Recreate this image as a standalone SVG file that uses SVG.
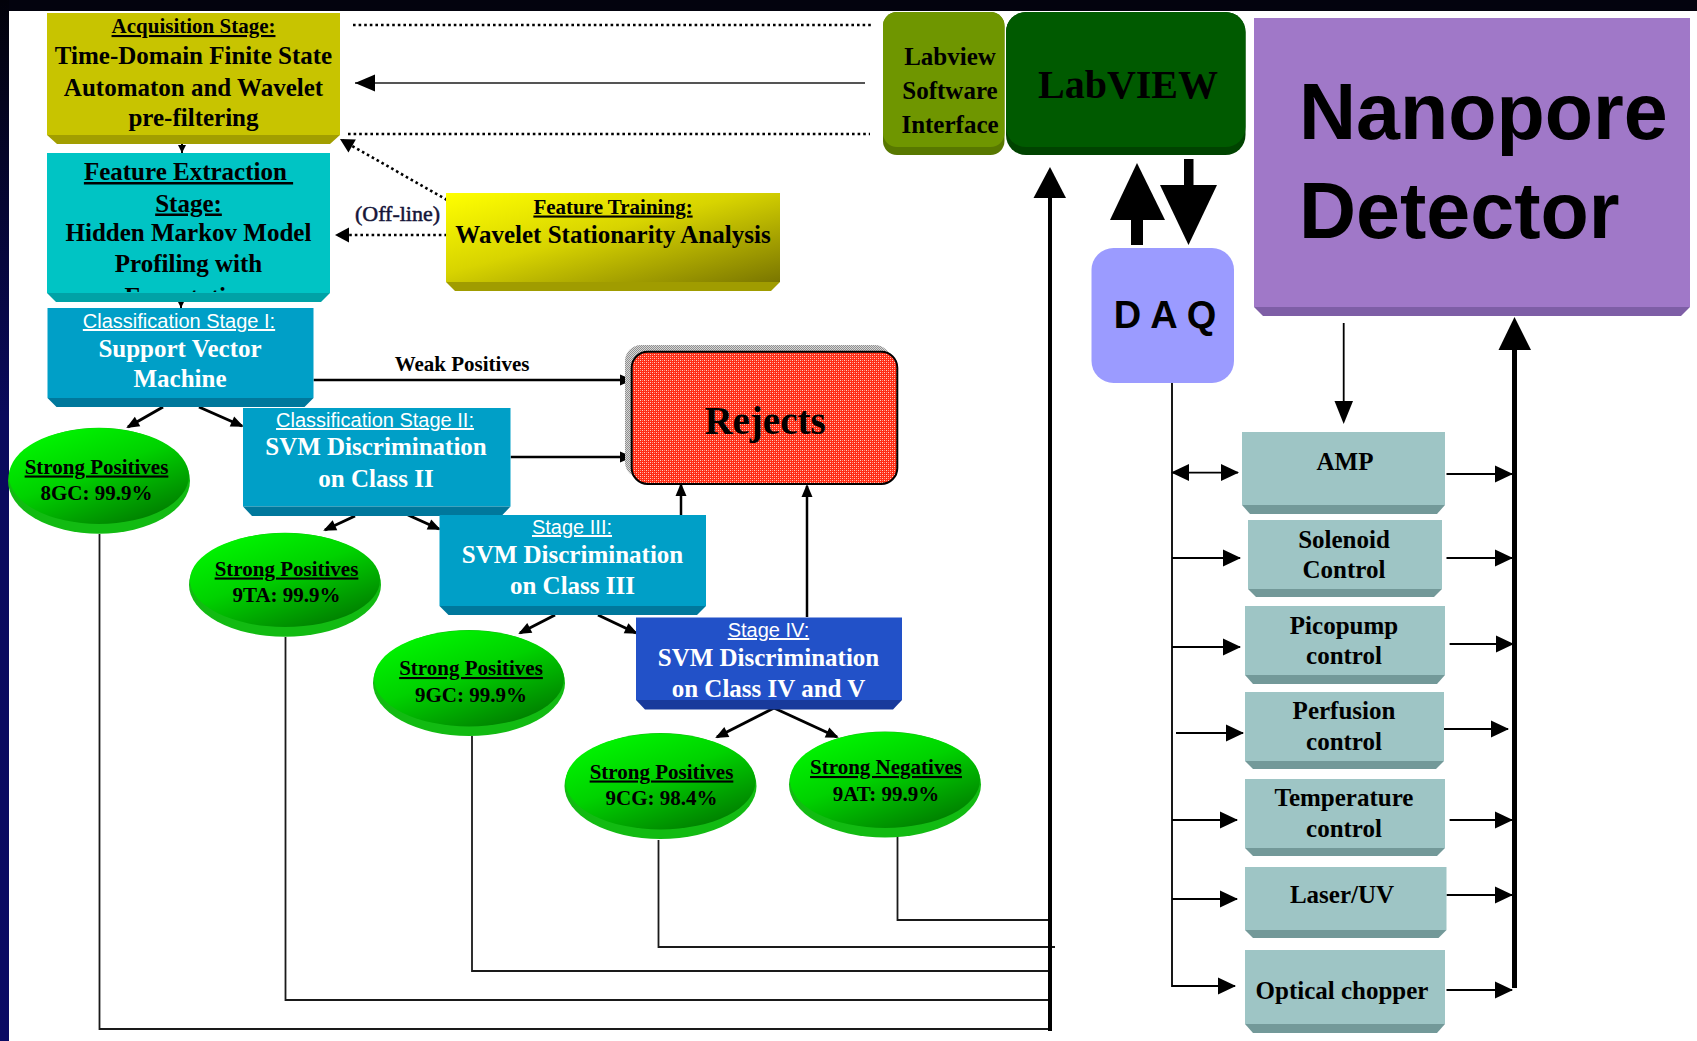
<svg xmlns="http://www.w3.org/2000/svg" width="1697" height="1041" viewBox="0 0 1697 1041">
<defs>
<style>
.sf{font-family:"Liberation Serif","Times New Roman",serif;font-weight:bold;text-anchor:middle;}
.ss{font-family:"Liberation Sans",Arial,sans-serif;text-anchor:middle;}
.u{text-decoration:underline;}
.wt{fill:#fff;}
.bk{fill:#000;}
.f25{font-size:25px;}
.f21{font-size:21px;}
.h20{font-size:20px;fill:#fff;}
.tree{stroke:#000;stroke-width:3;fill:none;marker-end:url(#ah12);}
.rj{stroke:#000;stroke-width:2.5;fill:none;marker-end:url(#ah12);}
.thin{stroke:#000;stroke-width:1.8;fill:none;marker-end:url(#ah18);}
.dot{stroke:#000;stroke-width:2.6;fill:none;stroke-dasharray:2.6 3;}
.ret{stroke:#1a1a1a;stroke-width:1.8;fill:none;}
.rb{fill:#9ec5c5;}
.rbv{fill:#739999;}
.cb{fill:#009fc7;}
.cbv{fill:#00789c;}
.gbase{fill:#12bb12;}
.gface{fill:url(#gg);}
</style>
<marker id="ah12" markerUnits="userSpaceOnUse" markerWidth="13" markerHeight="11" refX="11" refY="5.5" orient="auto" overflow="visible"><path d="M0,0 L13,5.5 L0,11 z" fill="#000"/></marker>
<marker id="ah18" markerUnits="userSpaceOnUse" markerWidth="18" markerHeight="17" refX="17" refY="8.5" orient="auto-start-reverse" overflow="visible"><path d="M0,0 L18,8.5 L0,17 z" fill="#000"/></marker>
<marker id="ahs" markerUnits="userSpaceOnUse" markerWidth="8" markerHeight="8" refX="8" refY="4" orient="auto" overflow="visible"><path d="M0,0 L8,4 L0,8 z" fill="#000"/></marker>
<marker id="ahd" markerUnits="userSpaceOnUse" markerWidth="14" markerHeight="15" refX="14" refY="7.5" orient="auto" overflow="visible"><path d="M0,0 L14,7.5 L0,15 z" fill="#000"/></marker>
<marker id="ahg" markerUnits="userSpaceOnUse" markerWidth="20" markerHeight="17" refX="20" refY="8.5" orient="auto" overflow="visible"><path d="M0,0 L20,8.5 L0,17 z" fill="#000"/></marker>
<linearGradient id="gg" x1="0.15" y1="0" x2="0.85" y2="1">
<stop offset="0" stop-color="#00fa00"/><stop offset="0.45" stop-color="#00d200"/><stop offset="1" stop-color="#007400"/>
</linearGradient>
<linearGradient id="ftg" x1="0" y1="0" x2="1" y2="1">
<stop offset="0" stop-color="#ffff00"/><stop offset="0.45" stop-color="#d8d400"/><stop offset="1" stop-color="#7a7600"/>
</linearGradient>
<linearGradient id="navy" x1="0" y1="0" x2="0" y2="1">
<stop offset="0" stop-color="#02020a"/><stop offset="0.4" stop-color="#0a0a5c"/><stop offset="1" stop-color="#0a0a64"/>
</linearGradient>
<pattern id="redp" width="4" height="4" patternUnits="userSpaceOnUse">
<rect width="4" height="4" fill="#ff2c14"/><rect x="0" y="0" width="1" height="1" fill="#ffd0c6"/><rect x="2" y="2" width="1" height="1" fill="#ffd0c6"/><rect x="2" y="0" width="1" height="1" fill="#ff8a7a"/><rect x="0" y="2" width="1" height="1" fill="#ff8a7a"/>
</pattern>
<pattern id="grayp" width="2" height="2" patternUnits="userSpaceOnUse">
<rect width="2" height="2" fill="#d8d8d8"/><rect width="1" height="1" fill="#909090"/><rect x="1" y="1" width="1" height="1" fill="#909090"/>
</pattern>
<clipPath id="feclip"><rect x="47" y="153" width="283" height="139"/></clipPath>
</defs>

<rect x="0" y="0" width="1697" height="1041" fill="#fff"/>
<rect x="0" y="0" width="1697" height="11" fill="#03030e"/>
<rect x="0" y="0" width="9" height="1041" fill="url(#navy)"/>

<g id="connectors">
<path class="dot" d="M353,25 H873"/>
<path class="dot" d="M348,134 H870"/>
<path d="M865,83 H355" stroke="#555" stroke-width="2.2" fill="none" marker-end="url(#ahg)"/>
<path class="dot" d="M447,200 L340,139" marker-end="url(#ahd)"/>
<path class="dot" d="M447,235 H335" marker-end="url(#ahd)"/>
<path d="M182,144 V153" stroke="#000" stroke-width="2" marker-end="url(#ahs)"/>
<path d="M181,302 V308" stroke="#000" stroke-width="2" marker-end="url(#ahs)"/>
<path class="tree" d="M163,407 L128,427"/>
<path class="tree" d="M199,407 L242,426"/>
<path class="tree" d="M355,516 L325,530"/>
<path class="tree" d="M408,515 L439,529"/>
<path class="tree" d="M555,615 L520,633"/>
<path class="tree" d="M598,615 L636,633"/>
<path class="tree" d="M774,708 L717,737"/>
<path class="tree" d="M774,708 L837,737"/>
<path class="rj" d="M313.6,380 H631"/>
<path class="rj" d="M510.7,457 H631"/>
<path class="rj" d="M681,515 V485"/>
<path class="rj" d="M807,617 V486"/>
<path class="ret" d="M99.5,534 V1029 H1050"/>
<path class="ret" d="M285.5,637 V1000 H1050"/>
<path class="ret" d="M472,736 V971 H1050"/>
<path class="ret" d="M658.5,840 V947 H1055"/>
<path class="ret" d="M897.5,833 V920 H1050"/>
<path d="M1050,1031 V196" stroke="#000" stroke-width="4" fill="none"/>
<polygon points="1033.5,198 1066,198 1050,167" fill="#000"/>
<rect x="1131" y="218" width="12" height="27" fill="#000"/>
<polygon points="1110,220 1165,220 1137,163" fill="#000"/>
<rect x="1184" y="159" width="9.5" height="28" fill="#000"/>
<polygon points="1160,185 1217,185 1188.5,245" fill="#000"/>
<path d="M1343.7,323 V402" stroke="#000" stroke-width="1.8" fill="none"/>
<polygon points="1334.5,401 1353,401 1343.7,424" fill="#000"/>
<path d="M1514.5,988 V348" stroke="#000" stroke-width="5" fill="none"/>
<polygon points="1498.5,350 1531,350 1514.5,317" fill="#000"/>
<path class="thin" d="M1172,383 V986 H1235"/>
<path class="thin" d="M1172,472.6 H1238" marker-start="url(#ah18)"/>
<path class="thin" d="M1172,558 H1240"/>
<path class="thin" d="M1172,647 H1240"/>
<path class="thin" d="M1176,733 H1243"/>
<path class="thin" d="M1172,820 H1237"/>
<path class="thin" d="M1172,899 H1237"/>
<path class="thin" d="M1446.5,474 H1512"/>
<path class="thin" d="M1446.5,558 H1512"/>
<path class="thin" d="M1449.6,644 H1513"/>
<path class="thin" d="M1444,729 H1508"/>
<path class="thin" d="M1449.6,820 H1512"/>
<path class="thin" d="M1446.5,895 H1512"/>
<path class="thin" d="M1446.5,990 H1512"/>
</g>

<g id="acquisition">
<rect x="47" y="13" width="293" height="122" fill="#c8c400"/>
<polygon points="47,135 340,135 330,144 57,144" fill="#a29e00"/>
<text class="sf f21 u" x="193.5" y="33">Acquisition Stage:</text>
<text class="sf f25" x="193.5" y="64">Time-Domain Finite State</text>
<text class="sf f25" x="193.5" y="95.5">Automaton and Wavelet</text>
<text class="sf f25" x="193.5" y="126">pre-filtering</text>
</g>

<g id="feature-extraction">
<rect x="47" y="153" width="283" height="140" fill="#00c4c4"/>
<polygon points="47,293 330,293 321,302 56,302" fill="#00a2a6"/>
<text class="sf f25 u" x="188.5" y="180" xml:space="preserve">Feature Extraction </text>
<text class="sf f25 u" x="188.5" y="211.5">Stage:</text>
<text class="sf f25" x="188.5" y="241">Hidden Markov Model</text>
<text class="sf f25" x="188.5" y="272">Profiling with</text>
<text class="sf f25" x="188.5" y="305" clip-path="url(#feclip)">Expectation</text>
</g>

<g id="feature-training">
<rect x="446" y="193" width="334" height="89" fill="url(#ftg)"/>
<polygon points="446,282 780,282 771,291 455,291" fill="#a09c00"/>
<text class="sf f21 u" x="613" y="213.5">Feature Training:</text>
<text class="sf f25" x="613" y="243">Wavelet Stationarity Analysis</text>
</g>

<g id="offline-label">
<text x="397.5" y="221" style="font-family:'Liberation Serif','Times New Roman',serif;font-size:22px;text-anchor:middle;fill:#141438;stroke:#141438;stroke-width:0.5">(Off-line)</text>
</g>

<g id="labview-interface">
<rect x="883" y="12" width="121.5" height="143" rx="14" fill="#587800"/>
<rect x="883" y="12" width="121.5" height="135" rx="14" fill="#6f9600"/>
<text class="sf f25" x="950" y="65">Labview</text>
<text class="sf f25" x="950" y="99">Software</text>
<text class="sf f25" x="950" y="133">Interface</text>
</g>

<g id="labview">
<rect x="1006" y="12" width="239.5" height="143" rx="20" fill="#004300"/>
<rect x="1006" y="12" width="239.5" height="135" rx="20" fill="#005a00"/>
<text class="sf" x="1128" y="98" style="font-size:40px">LabVIEW</text>
</g>

<g id="nanopore">
<rect x="1254" y="18" width="436" height="289" fill="#a078c8"/>
<polygon points="1254,307 1690,307 1681,316 1263,316" fill="#7e5ea6"/>
<text x="1299" y="138.5" style="font-family:'Liberation Sans',Arial,sans-serif;font-weight:bold;font-size:79px">Nanopore</text>
<text x="1299" y="238" style="font-family:'Liberation Sans',Arial,sans-serif;font-weight:bold;font-size:79px">Detector</text>
</g>

<g id="daq">
<rect x="1091.5" y="248" width="142.5" height="135" rx="22" fill="#9b9bff"/>
<text class="ss" x="1165" y="328" style="font-weight:bold;font-size:38px">D A Q</text>
</g>

<g id="class1">
<rect class="cb" x="47.5" y="308" width="266" height="90"/>
<polygon class="cbv" points="47.5,398 313.5,398 304.5,407 56.5,407"/>
<text class="ss h20 u" x="179" y="328">Classification Stage I:</text>
<text class="sf f25 wt" x="180" y="357">Support Vector</text>
<text class="sf f25 wt" x="180" y="387">Machine</text>
</g>

<g id="class2">
<rect class="cb" x="243" y="408" width="267.5" height="98.5"/>
<polygon class="cbv" points="243,506.5 510.5,506.5 501.5,516 252,516"/>
<text class="ss h20 u" x="375" y="427">Classification Stage II:</text>
<text class="sf f25 wt" x="376" y="455">SVM Discrimination</text>
<text class="sf f25 wt" x="376" y="487">on Class II</text>
</g>

<g id="class3">
<rect class="cb" x="439.5" y="515" width="266.5" height="91"/>
<polygon class="cbv" points="439.5,606 706,606 697,615 448.5,615"/>
<text class="ss h20 u" x="572" y="534">Stage III:</text>
<text class="sf f25 wt" x="572.5" y="563">SVM Discrimination</text>
<text class="sf f25 wt" x="572.5" y="594">on Class III</text>
</g>

<g id="stage4">
<rect x="636" y="617.5" width="266" height="82.5" fill="#2251c8"/>
<polygon points="636,700 902,700 893,709.5 645,709.5" fill="#183a9c"/>
<text class="ss h20 u" x="768.5" y="637">Stage IV:</text>
<text class="sf f25 wt" x="768.5" y="666">SVM Discrimination</text>
<text class="sf f25 wt" x="768.5" y="696.5">on Class IV and V</text>
</g>

<g id="rejects">
<rect x="625" y="345" width="266" height="133" rx="16" fill="url(#grayp)"/>
<rect x="631.7" y="351.7" width="265.6" height="132.3" rx="16" fill="url(#redp)" stroke="#000" stroke-width="2"/>
<text class="sf bk" x="765" y="434" style="font-size:39px">Rejects</text>
</g>

<g id="sp-8gc">
<ellipse class="gbase" cx="99" cy="480.7" rx="91" ry="53"/>
<ellipse class="gface" cx="99" cy="476" rx="90" ry="48"/>
<text class="sf f21 u bk" x="96.5" y="473.5">Strong Positives</text>
<text class="sf f21 bk" x="96.5" y="499.5">8GC: 99.9%</text>
</g>

<g id="sp-9ta">
<ellipse class="gbase" cx="285" cy="584.7" rx="96" ry="52"/>
<ellipse class="gface" cx="285" cy="580" rx="95" ry="47"/>
<text class="sf f21 u bk" x="286.5" y="575.5">Strong Positives</text>
<text class="sf f21 bk" x="286.5" y="602">9TA: 99.9%</text>
</g>

<g id="sp-9gc">
<ellipse class="gbase" cx="469" cy="683" rx="96" ry="53"/>
<ellipse class="gface" cx="469" cy="678.5" rx="95" ry="48"/>
<text class="sf f21 u bk" x="471" y="675">Strong Positives</text>
<text class="sf f21 bk" x="471" y="701.5">9GC: 99.9%</text>
</g>

<g id="sp-9cg">
<ellipse class="gbase" cx="660.5" cy="786" rx="96" ry="53"/>
<ellipse class="gface" cx="660.5" cy="781.5" rx="95" ry="48"/>
<text class="sf f21 u bk" x="661.5" y="778.5">Strong Positives</text>
<text class="sf f21 bk" x="661.5" y="805">9CG: 98.4%</text>
</g>

<g id="sn-9at">
<ellipse class="gbase" cx="885" cy="784.5" rx="96" ry="53"/>
<ellipse class="gface" cx="885" cy="780" rx="95" ry="48"/>
<text class="sf f21 u bk" x="886" y="774">Strong Negatives</text>
<text class="sf f21 bk" x="886" y="801">9AT: 99.9%</text>
</g>

<g id="weak-positives-label">
<text class="sf f21 bk" x="462" y="371">Weak Positives</text>
</g>

<g id="amp">
<rect class="rb" x="1242" y="432" width="203" height="73"/>
<polygon class="rbv" points="1242,505 1445,505 1437,514 1250,514"/>
<text class="sf f25 bk" x="1345" y="469.5">AMP</text>
</g>
<g id="solenoid">
<rect class="rb" x="1248" y="520" width="194" height="69"/>
<polygon class="rbv" points="1248,589 1442,589 1434,597 1256,597"/>
<text class="sf f25 bk" x="1344" y="548">Solenoid</text>
<text class="sf f25 bk" x="1344" y="578">Control</text>
</g>
<g id="picopump">
<rect class="rb" x="1245" y="606" width="200" height="69"/>
<polygon class="rbv" points="1245,675 1445,675 1437,684 1253,684"/>
<text class="sf f25 bk" x="1344" y="633.5">Picopump</text>
<text class="sf f25 bk" x="1344" y="664">control</text>
</g>
<g id="perfusion">
<rect class="rb" x="1245" y="692" width="199" height="69"/>
<polygon class="rbv" points="1245,761 1444,761 1436,769 1253,769"/>
<text class="sf f25 bk" x="1344" y="719">Perfusion</text>
<text class="sf f25 bk" x="1344" y="750">control</text>
</g>
<g id="temperature">
<rect class="rb" x="1245" y="779" width="200" height="69"/>
<polygon class="rbv" points="1245,848 1445,848 1437,856 1253,856"/>
<text class="sf f25 bk" x="1344" y="806">Temperature</text>
<text class="sf f25 bk" x="1344" y="836.7">control</text>
</g>
<g id="laser">
<rect class="rb" x="1245" y="867" width="201.5" height="63"/>
<polygon class="rbv" points="1245,930 1446.5,930 1438.5,938 1253,938"/>
<text class="sf f25 bk" x="1342" y="903">Laser/UV</text>
</g>
<g id="chopper">
<rect class="rb" x="1245" y="950" width="200" height="74"/>
<polygon class="rbv" points="1245,1024 1445,1024 1437,1033 1253,1033"/>
<text class="sf f25 bk" x="1342" y="999">Optical chopper</text>
</g>
</svg>
